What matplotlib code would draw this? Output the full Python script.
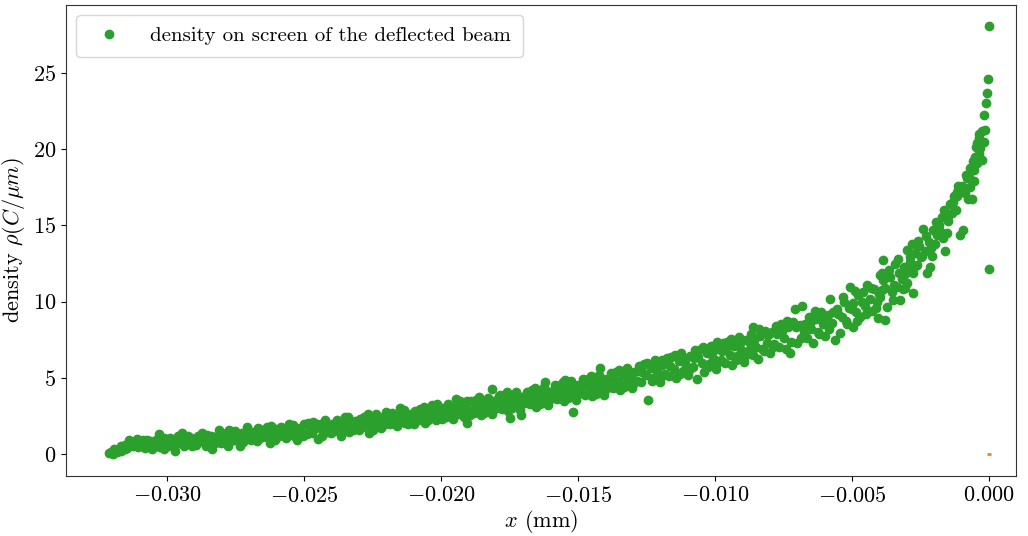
import matplotlib
matplotlib.use("Agg")
import matplotlib.pyplot as plt
import numpy as np

# Points (x in units of 1e-3 mm, y density)
x_pts = [
    -32.12, -32.05, -31.98, -31.90, -31.82, -31.75, -31.68, -31.60, -31.52, -31.45, -31.35, -31.25, -31.15, -31.05,
    -30.95, -30.88, -30.80, -30.72, -30.63, -30.55, -30.47, -30.38, -30.30, -30.22, -30.13, -30.05,
    -29.96, -29.88, -29.80, -29.71, -29.63, -29.55, -29.46, -29.38, -29.30, -29.21, -29.12, -29.04,
    -28.95, -28.87, -28.78, -28.70, -28.61, -28.53, -28.45, -28.36, -28.28, -28.20, -28.11, -28.03,
    -27.94, -27.86, -27.77, -27.69, -27.60, -27.52, -27.44, -27.35, -27.27, -27.18, -27.10, -27.02,
    -26.93, -26.85, -26.76, -26.68, -26.60, -26.51, -26.43, -26.34, -26.26, -26.17, -26.09, -26.01,
    -25.92, -25.84, -25.75, -25.67, -25.58, -25.50, -25.41, -25.33, -25.24, -25.16, -25.08, -25.00,
    -24.91, -24.83, -24.74, -24.66, -24.57, -24.49, -24.40, -24.32, -24.23, -24.15, -24.07, -23.98,
    -23.90, -23.81, -23.73, -23.64, -23.56, -23.47, -23.39, -23.30, -23.22, -23.13, -23.05, -22.97,
    -22.88, -22.80, -22.71, -22.63, -22.54, -22.46, -22.37, -22.29, -22.20, -22.12, -22.04, -21.95,
    -21.87, -21.78, -21.70, -21.61, -21.53, -21.44, -21.36, -21.27, -21.19, -21.10, -21.02, -20.94,
    -20.85, -20.77, -20.68, -20.60, -20.51, -20.43, -20.34, -20.26, -20.17, -20.09, -20.00, -19.92,
    -19.83, -19.75, -19.66, -19.58, -19.49, -19.41, -19.32, -19.24, -19.15, -19.07, -18.98, -18.90, -19.05,
    -18.81, -18.73, -18.64, -18.56, -18.47, -18.39, -18.30, -18.22, -18.13, -18.05, -17.96, -17.88, -18.15, -17.85,
    -17.79, -17.71, -17.62, -17.54, -17.45, -17.37, -17.28, -17.20, -17.11, -17.03, -16.94, -16.86, -17.48, -17.10,
    -16.77, -16.69, -16.60, -16.52, -16.43, -16.35, -16.26, -16.18, -16.09, -16.01, -15.92, -15.84, -16.20,
    -15.75, -15.67, -15.58, -15.50, -15.41, -15.33, -15.24, -15.16, -15.07, -14.99, -14.90, -14.82, -15.47, -15.18,
    -14.73, -14.65, -14.56, -14.48, -14.39, -14.31, -14.22, -14.14, -14.05, -13.97, -13.88, -13.80, -14.20,
    -13.71, -13.63, -13.54, -13.46, -13.37, -13.29, -13.20, -13.12, -13.03, -12.95, -12.86, -12.78,
    -12.69, -12.61, -12.52, -12.44, -12.35, -12.27, -12.18, -12.10, -12.01, -11.93, -11.84, -11.76, -11.94,
    -11.67, -11.59, -11.50, -11.42, -11.33, -11.25, -11.16, -11.08, -10.99, -10.91, -10.82, -10.74,
    -10.65, -10.57, -10.48, -10.40, -10.31, -10.23, -10.14, -10.06, -9.97, -9.89, -9.80, -9.72, -9.94,
    -9.63, -9.55, -9.46, -9.38, -9.29, -9.21, -9.12, -9.04, -8.95, -8.87, -8.78, -8.70,
    -8.61, -8.60, -8.52, -8.44, -8.35, -8.27, -8.18, -8.10, -8.01, -7.93, -7.84, -7.76,
    -7.67, -7.59, -7.50, -7.42, -7.33, -7.26, -7.16, -7.08, -6.99, -6.91, -6.84, -6.74,
    -6.65, -6.57, -6.48, -6.42, -6.31, -6.23, -6.14, -6.06, -5.97, -5.89, -5.80, -5.72,
    -5.63, -5.55, -5.44, -5.38, -5.29, -5.21, -5.12, -5.07, -4.96, -4.95, -4.86, -4.78,
    -4.69, -4.61, -4.52, -4.46, -4.35, -4.27, -4.18, -4.09, -4.05, -3.98, -3.87, -3.80,
    -3.96, -3.92, -3.86, -3.73, -3.70, -3.61, -3.55, -3.50, -3.43, -3.37, -3.30, -3.25, -3.18, -3.10, -3.05,
    -3.00, -3.00, -2.95, -2.88, -2.82, -2.77, -2.77, -2.70, -2.64, -2.55, -2.48, -2.40, -2.35, -2.27, -2.20, -2.15, -2.08,
    -2.04, -1.98, -1.90, -1.82, -1.73, -1.68, -1.60, -1.54, -1.48, -1.42, -1.36, -1.28, -1.20, -1.18, -1.12, -1.06, -1.06,
    -0.94, -0.88, -0.80, -0.77, -0.69, -0.69, -0.63, -0.55, -0.54, -0.47, -0.42, -0.38, -0.36, -0.36, -0.33,
    -0.27, -0.27, -0.20, -0.16, -0.17, -0.10, -0.07, -0.05, -0.01, 0.00,
]
y_pts = [
    0.05, 0.12, 0.02, 0.18, 0.10, 0.30, 0.22, 0.45, 0.62, 0.38, 0.75, 0.55, 0.85, 0.48,
    0.70, 0.95, 0.42, 0.60, 0.88, 0.35, 0.72, 0.50, 1.30, 0.62, 0.30, 0.80,
    0.55, 1.02, 0.68, 0.20, 0.90, 0.75, 1.40, 0.52, 0.85, 0.65, 1.05, 0.78,
    0.60, 1.15, 0.85, 1.00, 0.70, 1.25, 0.92, 0.35, 1.10, 0.98, 1.55, 0.75,
    1.05, 1.40, 0.50, 1.20, 0.95, 1.50, 1.10, 0.55, 1.35, 1.00, 1.75, 1.20,
    0.95, 1.45, 1.20, 1.70, 1.05, 1.40, 1.25, 1.75, 0.70, 1.50, 1.30, 1.65,
    1.20, 1.80, 1.45, 1.05, 1.60, 1.35, 1.90, 1.50, 0.90, 1.70, 1.40, 2.00,
    1.30, 1.85, 1.55, 2.10, 1.70, 1.00, 1.95, 1.60, 2.20, 1.45, 1.80, 2.00,
    1.50, 2.25, 1.80, 1.20, 2.05, 1.70, 2.40, 1.90, 1.55, 2.15, 1.85, 2.30,
    1.75, 2.45, 2.00, 1.35, 2.30, 1.90, 2.60, 2.10, 1.70, 2.40, 2.00, 2.55,
    1.95, 2.70, 2.30, 1.85, 2.55, 2.15, 2.90, 2.40, 2.00, 2.65, 2.25, 2.80,
    2.20, 2.95, 2.50, 2.05, 2.75, 2.40, 3.20, 2.60, 2.20, 2.90, 2.50, 3.05,
    2.45, 3.30, 2.75, 2.30, 3.10, 2.65, 3.45, 2.90, 2.40, 2.05, 2.80, 3.50, 3.50,
    2.70, 3.55, 3.00, 2.55, 3.35, 2.90, 3.70, 3.15, 2.60, 3.45, 3.05, 3.80, 4.24, 3.87,
    2.95, 3.85, 3.30, 2.80, 3.65, 3.20, 4.05, 3.45, 2.90, 3.75, 3.35, 4.10, 2.36, 2.56,
    3.25, 4.20, 3.60, 3.10, 4.00, 3.50, 4.40, 3.80, 3.20, 4.10, 3.70, 4.50, 4.74,
    3.60, 4.55, 4.00, 3.45, 4.35, 3.85, 4.80, 4.15, 3.55, 4.50, 4.05, 4.90, 4.86, 2.78,
    3.90, 4.95, 4.35, 3.80, 4.75, 4.20, 5.20, 4.50, 3.90, 4.90, 4.40, 5.30, 5.64,
    4.30, 5.40, 4.75, 4.20, 5.20, 4.60, 5.65, 4.95, 4.30, 5.35, 4.80, 5.80,
    4.70, 5.90, 5.20, 3.55, 5.65, 5.00, 6.15, 5.40, 4.75, 5.85, 5.25, 6.30, 6.20,
    5.10, 6.35, 5.60, 5.00, 6.10, 6.60, 5.45, 6.00, 5.20, 6.40, 5.70, 6.80,
    4.95, 6.85, 6.00, 5.40, 6.60, 5.90, 7.10, 6.30, 5.60, 6.90, 6.20, 7.30, 7.35,
    6.00, 7.35, 6.50, 5.85, 7.10, 6.40, 7.65, 6.80, 6.05, 7.45, 6.75, 7.90,
    6.50, 8.30, 7.00, 6.25, 7.75, 6.90, 8.05, 7.30, 6.60, 8.00, 7.20, 8.40,
    7.00, 8.50, 7.60, 6.90, 8.30, 6.65, 8.65, 9.50, 7.25, 8.45, 9.70, 8.00,
    7.60, 9.00, 8.20, 7.28, 8.85, 8.00, 9.30, 8.50, 7.75, 9.15, 10.15, 8.60,
    7.50, 9.50, 7.95, 9.00, 10.00, 8.70, 9.60, 10.95, 8.35, 9.90, 9.30, 10.40,
    9.00, 10.60, 9.70, 11.10, 10.20, 9.40, 10.80, 10.00, 8.90, 11.75, 11.40, 8.80,
    10.30, 10.76, 12.70, 9.67, 11.64, 11.60, 10.60, 10.10, 12.47, 10.98, 11.90, 10.10, 11.50, 12.30, 10.90,
    13.40, 11.20, 12.00, 12.60, 13.80, 11.90, 10.55, 13.20, 12.40, 13.65, 12.90, 14.76, 13.30, 11.90, 13.90, 12.30, 13.00,
    14.70, 13.80, 14.40, 15.00, 15.57, 14.20, 13.30, 14.50, 15.30, 16.40, 15.80, 16.90, 16.00, 16.90, 17.60, 14.37, 17.40,
    14.70, 17.10, 18.10, 16.70, 17.50, 18.75, 16.70, 17.90, 18.60, 20.16, 19.10, 20.76, 21.00, 19.70, 20.06,
    21.20, 19.30, 20.50, 21.26, 22.24, 23.00, 23.70, 24.60, 28.10, 12.15,
]

# more points from the same band, read in between the ones above
x_more = [
    -31.95, -31.70, -31.55, -31.40, -31.20, -31.10,
    -30.90, -30.75, -30.60, -30.42, -30.25, -30.10,
    -29.92, -29.75, -29.60, -29.42, -29.25, -29.08,
    -28.90, -28.74, -28.57, -28.40, -28.24, -28.07,
    -27.90, -27.73, -27.56, -27.40, -27.22, -27.06,
    -26.89, -26.72, -26.55, -26.38, -26.21, -26.05,
    -25.88, -25.71, -25.54, -25.37, -25.20, -25.04,
    -24.87, -24.70, -24.53, -24.36, -24.19, -24.02,
    -23.86, -23.69, -23.52, -23.35, -23.18, -23.01,
    -22.84, -22.67, -22.50, -22.33, -22.16, -22.00,
    -21.83, -21.66, -21.49, -21.32, -21.15, -20.98,
    -20.81, -20.64, -20.47, -20.30, -20.13, -19.96,
    -19.79, -19.62, -19.45, -19.28, -19.11, -18.94,
    -18.77, -18.60, -18.43, -18.26, -18.09, -17.92,
    -17.75, -17.58, -17.41, -17.24, -17.07, -16.90,
    -16.73, -16.56, -16.39, -16.22, -16.05, -15.88,
    -15.71, -15.54, -15.37, -15.20, -15.03, -14.86,
    -14.69, -14.52, -14.35, -14.18, -14.01, -13.84,
    -13.67, -13.50, -13.33, -13.16, -12.99, -12.82,
    -12.65, -12.48, -12.31, -12.14, -11.97, -11.80,
    -11.63, -11.46, -11.29, -11.12, -10.95, -10.78,
    -10.61, -10.44, -10.27, -10.10, -9.93, -9.76,
    -9.59, -9.42, -9.25, -9.08, -8.91, -8.74,
    -8.57, -8.40, -8.23, -8.06, -7.89, -7.72,
    -7.55, -7.38, -7.21, -7.04, -6.87, -6.70,
    -6.53, -6.36, -6.19, -6.02, -5.85, -5.68,
    -5.51, -5.34, -5.17, -5.00, -4.90, -4.83,
    -4.65, -4.48, -4.31, -4.14, -4.00, -3.90,
    -3.78, -3.65, -3.47, -3.33, -3.15, -3.07,
    -2.90, -2.73, -2.60, -2.44, -2.30, -2.12,
    -1.94, -1.78, -1.63, -1.50, -1.32, -1.15,
    -0.98, -0.84, -0.72, -0.60, -0.50, -0.43,
]
y_more = [
    0.30, 0.55, 0.30, 0.90, 0.70, 1.00,
    0.55, 0.90, 0.55, 0.95, 0.45, 1.05,
    0.85, 0.45, 1.15, 0.70, 1.20, 0.50,
    0.90, 1.35, 0.50, 1.20, 0.75, 1.10,
    0.75, 1.55, 0.90, 1.30, 0.80, 1.50,
    1.20, 0.85, 1.60, 1.10, 1.85, 0.95,
    1.55, 1.25, 2.00, 1.15, 1.45, 1.20,
    2.05, 1.40, 1.95, 1.20, 1.75, 1.40,
    2.00, 1.60, 2.45, 1.45, 2.00, 1.60,
    2.20, 2.65, 1.60, 2.35, 1.95, 2.75,
    2.45, 2.10, 3.00, 2.05, 2.50, 1.95,
    2.65, 3.10, 2.20, 2.85, 3.30, 2.30,
    2.95, 2.50, 3.60, 2.60, 3.10, 2.55,
    3.20, 3.75, 2.70, 3.45, 2.90, 3.60,
    3.45, 4.10, 3.00, 3.75, 3.25, 3.90,
    3.75, 4.35, 3.30, 4.20, 3.55, 4.20,
    4.10, 4.70, 3.70, 4.45, 3.85, 4.60,
    4.50, 5.10, 3.95, 4.85, 4.20, 5.00,
    4.95, 5.50, 4.40, 5.30, 4.60, 5.45,
    5.35, 6.00, 4.80, 5.75, 5.05, 5.95,
    5.80, 6.50, 5.25, 6.25, 5.50, 6.30,
    6.35, 7.00, 5.70, 6.70, 5.95, 6.75,
    6.80, 7.55, 6.15, 7.25, 6.45, 7.30,
    7.45, 8.20, 6.75, 7.80, 7.00, 7.85,
    8.10, 8.75, 7.35, 8.30, 7.60, 8.55,
    8.50, 9.35, 7.85, 8.95, 8.20, 9.30,
    9.20, 10.30, 8.50, 9.50, 10.70, 8.75,
    10.00, 9.20, 10.90, 9.60, 10.50, 11.90,
    10.90, 12.10, 11.10, 12.80, 10.80, 11.80,
    12.90, 12.30, 14.00, 13.00, 14.30, 13.50,
    15.20, 14.60, 16.00, 15.60, 16.50, 17.20,
    17.60, 18.30, 18.20, 19.20, 19.50, 20.40,
]

# second series: a single tiny orange mark at the origin
x_ref = [0.0]
y_ref = [0.0]

plt.rcParams['font.family'] = 'serif'
plt.rcParams['font.serif'] = ['cmr10', 'DejaVu Serif']
plt.rcParams['mathtext.fontset'] = 'cm'
plt.rcParams['axes.formatter.use_mathtext'] = True
plt.rcParams['font.size'] = 16

fig = plt.figure(figsize=(10.28, 5.36), dpi=100)
ax = fig.add_axes([0.0642, 0.112, 0.9241, 0.8788])

x = np.array(x_pts + x_more) * 1e-3
y = np.array(y_pts + y_more)
ax.plot(x, y, 'o', color='C2', label='density on screen of the deflected beam')
ax.plot(np.array(x_ref), y_ref, '_', color='C1', markersize=3, markeredgewidth=2)

ax.set_xlim(-0.03369, 0.000985)
ax.set_ylim(-1.44, 29.46)
ax.set_xticks([-0.030, -0.025, -0.020, -0.015, -0.010, -0.005, 0.000])
ax.set_yticks([0, 5, 10, 15, 20, 25])
ax.tick_params(labelsize=16)
for s in ax.spines.values():
    s.set_color('#333333')

ax.set_xlabel(r'$x$ (mm)', fontsize=16, labelpad=2)
ax.set_ylabel(r'density $\rho(C/\mu m)$', fontsize=16, labelpad=4)
ax.legend(loc='upper left', fontsize=15, handletextpad=1.0, borderpad=0.55)

fig.savefig('out.png', dpi=100)
